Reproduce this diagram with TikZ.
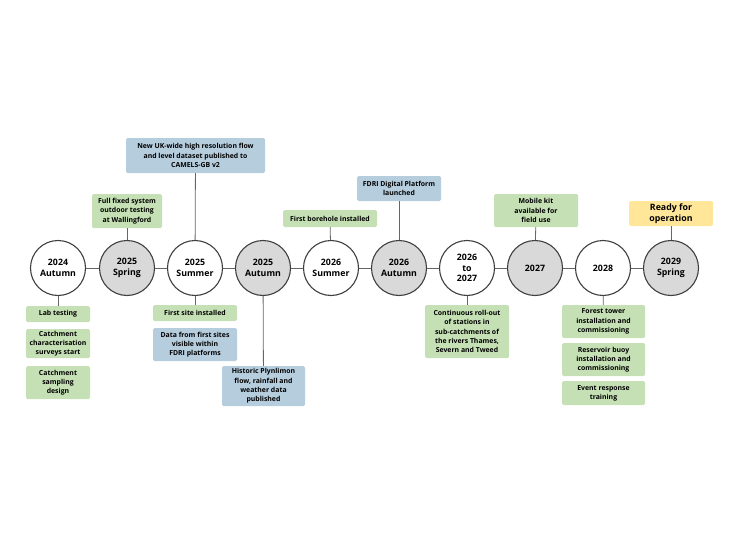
\documentclass[tikz,border=0pt]{standalone}
\usepackage{fontspec}
\setmainfont{Open Sans}
\begin{document}
\begin{tikzpicture}[x=1pt,y=-1pt,
 yr/.style={circle,draw=black!75,line width=1.1pt,minimum size=55pt,inner sep=0pt,fill=white,font=\bfseries\fontsize{8.8}{10.8}\selectfont,align=center},
 gr/.style={yr,fill=black!15},
 bx/.style={draw=none,rounded corners=1.5pt,font=\bfseries\fontsize{6.9}{9.2}\selectfont,align=center,inner sep=0pt},
 g/.style={bx,fill={rgb,255:red,197;green,224;blue,180}},
 b/.style={bx,fill={rgb,255:red,182;green,205;blue,222}},
 ln/.style={draw=black!60,line width=0.8pt}]
\useasboundingbox (0,0) rectangle (740,546);
\newcommand{\bxat}[7]{\node[#1,minimum width=#4-#2,minimum height=#5-#3] (#6) at ({(#2+#4)/2},{(#3+#5)/2}) {#7};}
\bxat{g}{26}{306}{90}{322}{lab}{Lab testing}
\bxat{g}{26}{329}{90}{358}{cc}{Catchment\\characterisation\\surveys start}
\bxat{g}{26}{366}{90}{399}{cs}{Catchment\\sampling\\design}
\bxat{g}{92}{194}{162}{228}{ff}{Full fixed system\\outdoor testing\\at Wallingford}
\bxat{b}{126}{138}{265}{173}{uk}{New UK-wide high resolution flow\\and level dataset published to\\CAMELS-GB v2}
\bxat{g}{153}{305}{237}{321}{fs}{First site installed}
\bxat{b}{153}{328}{237}{361}{df}{Data from first sites\\visible within\\FDRI platforms}
\bxat{b}{222}{366}{305}{406}{hp}{Historic Plynlimon\\flow, rainfall and\\weather data\\published}
\bxat{g}{283}{210}{377}{227}{fb}{First borehole installed}
\bxat{b}{357}{176}{441}{201}{dp}{FDRI Digital Platform\\launched}
\bxat{g}{425}{305}{509}{358}{cr}{Continuous roll-out\\of stations in\\sub-catchments of\\the rivers Thames,\\Severn and Tweed}
\bxat{g}{494}{194}{578}{227}{mk}{Mobile kit\\available for\\field use}
\bxat{g}{562}{305}{645}{338}{ft}{Forest tower\\installation and\\commissioning}
\bxat{g}{562}{343}{645}{376}{rb}{Reservoir buoy\\installation and\\commissioning}
\bxat{g}{562}{381}{645}{405}{er}{Event response\\training}
\node[bx,fill={rgb,255:red,255;green,230;blue,153},minimum width=84,minimum height=25,font=\bfseries\fontsize{8.8}{11}\selectfont] (ro) at (671,213.5) {Ready for\\operation};
\foreach \n/\x/\s/\t in {c1/58/yr/{2024\\Autumn},c2/127/gr/{2025\\Spring},c3/195/yr/{2025\\Summer},c4/263/gr/{2025\\Autumn},c5/331/yr/{2026\\Summer},c6/399/gr/{2026\\Autumn},c7/467/yr/{2026\\to\\2027},c8/535/gr/{2027},c9/603/yr/{2028},c10/671/gr/{2029\\Spring}}
  \node[\s] (\n) at (\x,268) {\t};
\foreach \a/\b in {c1/c2,c2/c3,c3/c4,c4/c5,c5/c6,c6/c7,c7/c8,c8/c9,c9/c10} \draw[ln] (\a) -- (\b);
\draw[ln] (c1) -- (lab);
\draw[ln] (c2) -- (ff);
\draw[ln] (c3) -- (uk);
\draw[ln] (c3) -- (fs);
\draw[ln] (c4) -- (hp);
\draw[ln] (c5) -- (fb);
\draw[ln] (c6) -- (dp);
\draw[ln] (c7) -- (cr);
\draw[ln] (c8) -- (mk);
\draw[ln] (c9) -- (ft);
\draw[ln] (c10) -- (ro);
\end{tikzpicture}
\end{document}
